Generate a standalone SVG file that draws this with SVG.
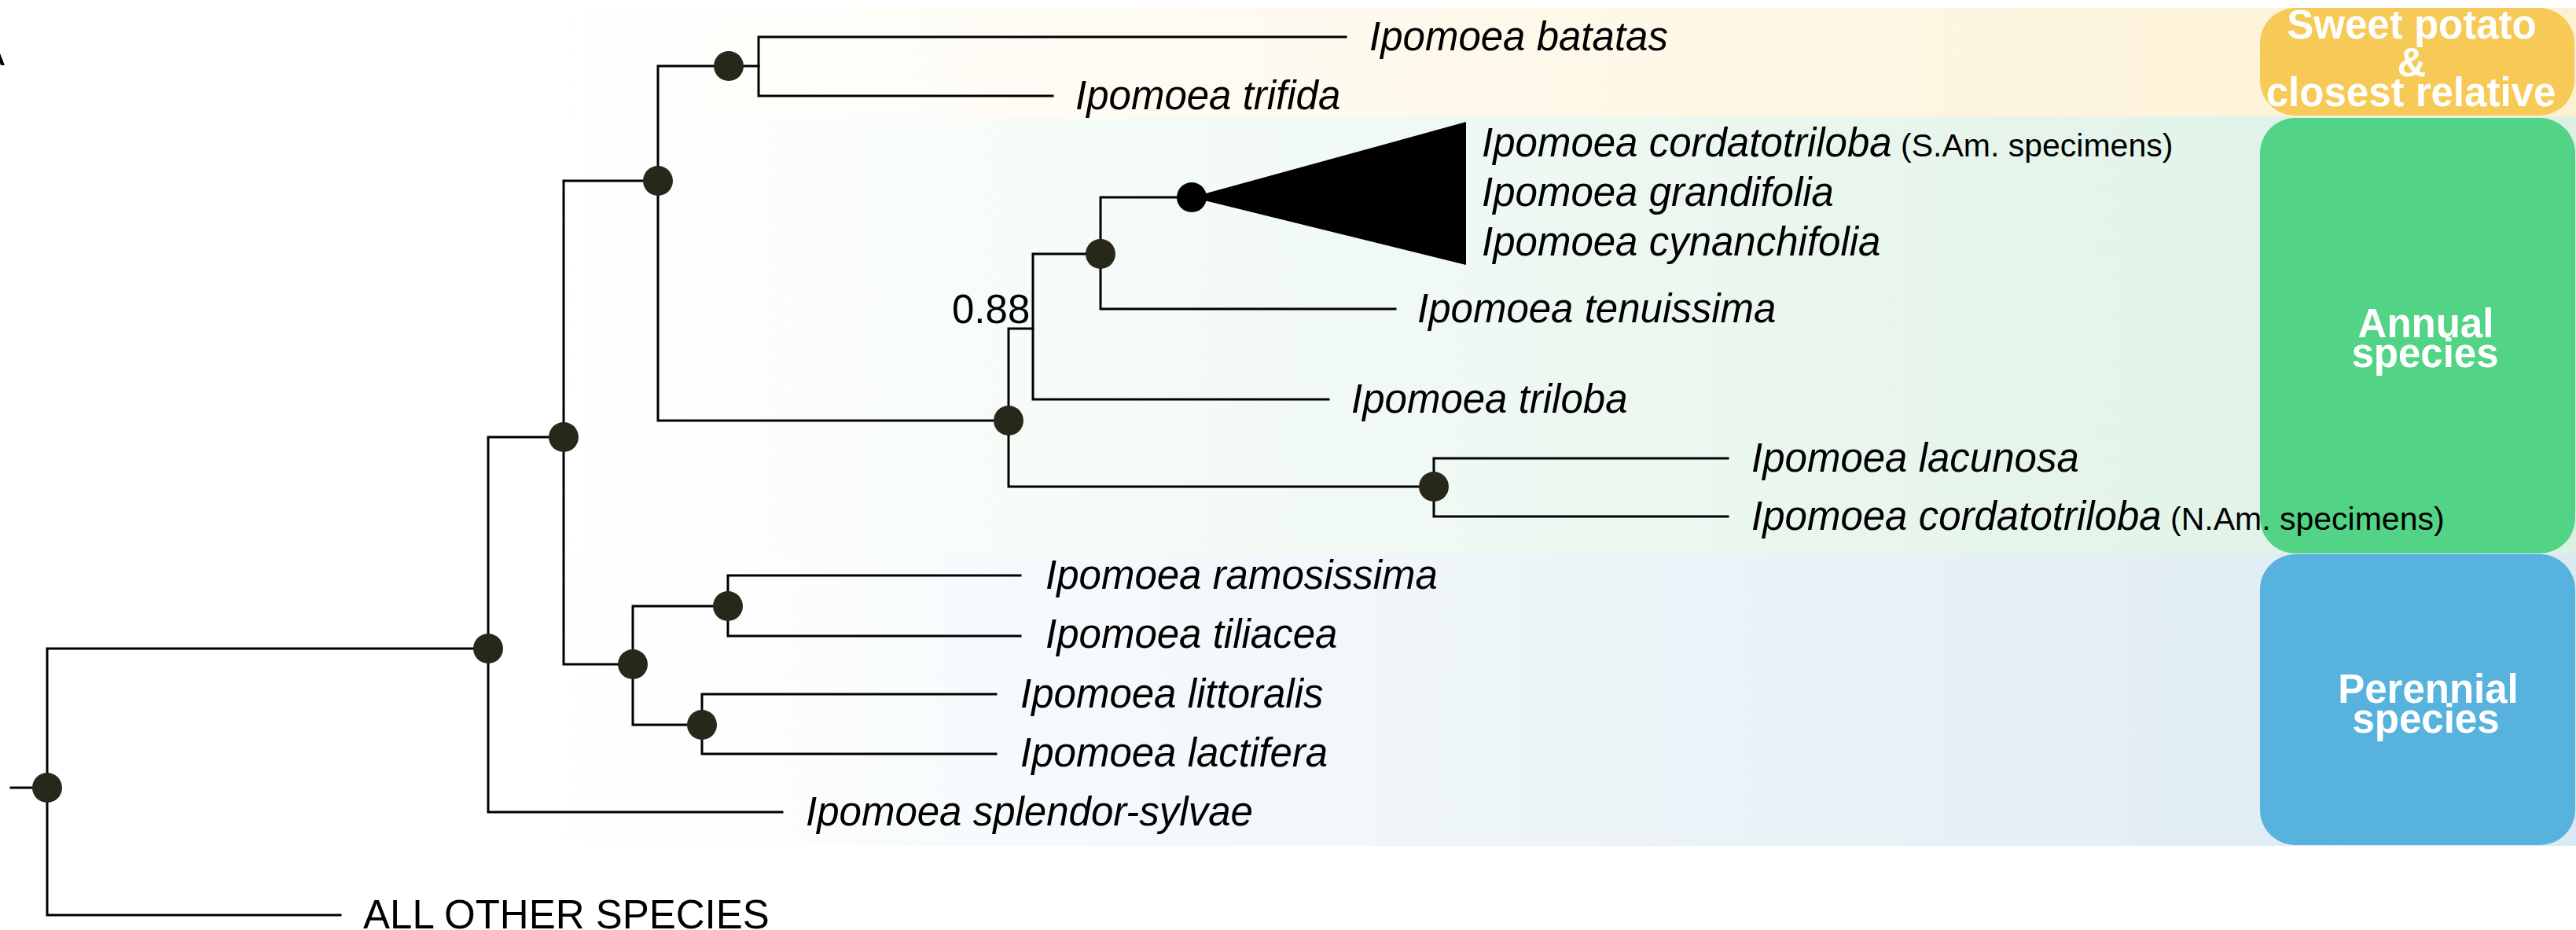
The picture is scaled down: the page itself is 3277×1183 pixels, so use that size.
<svg xmlns="http://www.w3.org/2000/svg" width="3277" height="1183" viewBox="0 0 3277 1183">
  <defs>
    <linearGradient id="gYellow" x1="0" y1="0" x2="1" y2="0">
      <stop offset="0" stop-color="#fdf1d3" stop-opacity="0"/>
      <stop offset="1" stop-color="#fdf1d3"/>
    </linearGradient>
    <linearGradient id="gGreen" x1="0" y1="0" x2="1" y2="0">
      <stop offset="0" stop-color="#dcf1e4" stop-opacity="0"/>
      <stop offset="1" stop-color="#dcf1e4"/>
    </linearGradient>
    <linearGradient id="gBlue" x1="0" y1="0" x2="1" y2="0">
      <stop offset="0" stop-color="#dbeaf2" stop-opacity="0"/>
      <stop offset="1" stop-color="#dbeaf2"/>
    </linearGradient>
  </defs>
  <style>
    .br { fill: none; stroke: #000; stroke-width: 3; stroke-linecap: square; }
    .nd { fill: #28281a; }
    .sp { font-family: "Liberation Sans", Arial, sans-serif; font-size: 51px; font-style: italic; fill: #000; }
    .note { font-style: normal; font-size: 41px; }
    .plain { font-family: "Liberation Sans", Arial, sans-serif; font-size: 51px; fill: #000; }
    .lab { font-family: "Liberation Sans", Arial, sans-serif; font-size: 51px; font-weight: bold; fill: #fff; text-anchor: middle; }
  </style>

  <rect width="3277" height="1183" fill="#fff"/>

  <!-- shaded bands behind the clades -->
  <g id="bands">
    <rect x="700" y="10" width="2577" height="138" fill="url(#gYellow)"/>
    <rect x="700" y="148" width="2577" height="556" fill="url(#gGreen)"/>
    <rect x="700" y="704" width="2577" height="372" fill="url(#gBlue)"/>
  </g>

  <!-- panel letter, mostly outside the frame -->
  <text class="plain" x="-28" y="83">A</text>

  <!-- branches -->
  <g id="connectors">
    <path class="br" d="M14,1002 H60"/>
    <path class="br" d="M621,825 H60 V1164 H433"/>
    <path class="br" d="M717,556 H621 V1033 H995"/>
    <path class="br" d="M837,230 H717 V845 H805"/>
    <path class="br" d="M965,84 H837 V535 H1283"/>
    <path class="br" d="M1712,47 H965 V122 H1339"/>
    <path class="br" d="M1314,418 H1283 V619 H1824"/>
    <path class="br" d="M1400,323 H1314 V508 H1690"/>
    <path class="br" d="M1516,251 H1400 V393 H1775"/>
    <path class="br" d="M2198,583 H1824 V657 H2198"/>
    <path class="br" d="M926,771 H805 V922 H893"/>
    <path class="br" d="M1298,732 H926 V809 H1298"/>
    <path class="br" d="M1267,883 H893 V959 H1267"/>
  </g>

  <!-- internal nodes -->
  <g id="node-root"><circle class="nd" cx="60" cy="1002" r="19"/></g>
  <g id="node-a"><circle class="nd" cx="621" cy="825" r="19"/></g>
  <g id="node-b"><circle class="nd" cx="717" cy="556" r="19"/></g>
  <g id="node-c"><circle class="nd" cx="837" cy="230" r="19"/></g>
  <g id="node-d"><circle class="nd" cx="927" cy="84" r="19"/></g>
  <g id="node-e"><circle class="nd" cx="1283" cy="535" r="19"/></g>
  <g id="node-f"><text class="plain" x="1211" y="411">0.88</text></g>
  <g id="node-g"><circle class="nd" cx="1400" cy="323" r="19"/></g>
  <g id="node-h"><circle class="nd" cx="1824" cy="619" r="19"/></g>
  <g id="node-p"><circle class="nd" cx="805" cy="845" r="19"/></g>
  <g id="node-q"><circle class="nd" cx="926" cy="771" r="19"/></g>
  <g id="node-r"><circle class="nd" cx="893" cy="922" r="19"/></g>

  <!-- collapsed clade -->
  <g id="node-collapsed">
    <polygon points="1516,251 1865,155 1865,337" fill="#000"/>
    <circle cx="1516" cy="251" r="19" fill="#000"/>
    <text class="sp" x="1885" y="199">Ipomoea cordatotriloba<tspan class="note"> (S.Am. specimens)</tspan></text>
    <text class="sp" x="1885" y="262">Ipomoea grandifolia</text>
    <text class="sp" x="1885" y="325">Ipomoea cynanchifolia</text>
  </g>

  <!-- tips -->
  <g id="tip-batatas"><text class="sp" x="1742" y="64">Ipomoea batatas</text></g>
  <g id="tip-trifida"><text class="sp" x="1368" y="139">Ipomoea trifida</text></g>
  <g id="tip-tenuissima"><text class="sp" x="1803" y="410">Ipomoea tenuissima</text></g>
  <g id="tip-triloba"><text class="sp" x="1719" y="525">Ipomoea triloba</text></g>
  <g id="tip-lacunosa"><text class="sp" x="2228" y="600">Ipomoea lacunosa</text></g>
  <g id="tip-ramosissima"><text class="sp" x="1330" y="749">Ipomoea ramosissima</text></g>
  <g id="tip-tiliacea"><text class="sp" x="1330" y="824">Ipomoea tiliacea</text></g>
  <g id="tip-littoralis"><text class="sp" x="1298" y="900">Ipomoea littoralis</text></g>
  <g id="tip-lactifera"><text class="sp" x="1298" y="975">Ipomoea lactifera</text></g>
  <g id="tip-splendor"><text class="sp" x="1025" y="1050">Ipomoea splendor-sylvae</text></g>
  <g id="tip-others"><text class="plain" x="462" y="1181">ALL OTHER SPECIES</text></g>

  <!-- group boxes -->
  <g id="box-sweet">
    <rect x="2875" y="10" width="400" height="137" rx="45" fill="#f7c957"/>
    <text class="lab" x="3068" y="49">Sweet potato</text>
    <text class="lab" x="3068" y="97" font-size="32">&amp;</text>
    <text class="lab" x="3067" y="135">closest relative</text>
  </g>
  <g id="box-annual">
    <rect x="2875" y="150" width="401" height="554" rx="45" fill="#52d385"/>
    <text class="lab" x="3086" y="429">Annual</text>
    <text class="lab" x="3085" y="467">species</text>
  </g>
  <g id="box-perennial">
    <rect x="2875" y="705" width="401" height="370" rx="45" fill="#57b3de"/>
    <text class="lab" x="3089" y="894">Perennial</text>
    <text class="lab" x="3086" y="932">species</text>
  </g>

  <!-- tip label that runs over the annual box -->
  <g id="tip-cordatotriloba-na"><text class="sp" x="2228" y="674">Ipomoea cordatotriloba<tspan class="note"> (N.Am. specimens)</tspan></text></g>
</svg>
